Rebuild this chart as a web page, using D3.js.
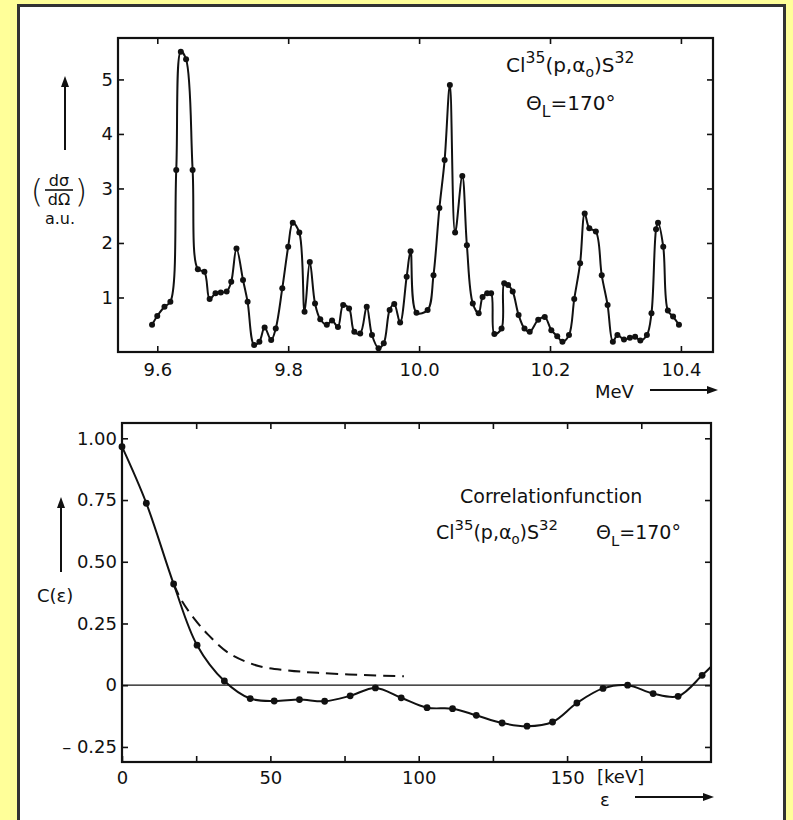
<!DOCTYPE html>
<html>
<head>
<meta charset="utf-8">
<script src="https://cdn.jsdelivr.net/npm/d3@7"></script>
<style>
  body { margin: 0; background: #ffff99; }
  svg { display: block; }
  text { font-family: "DejaVu Sans", "Liberation Sans", sans-serif; fill: #111; }
</style>
</head>
<body>
<div id="chart"></div>
<script>
var width = 793,
    height = 820;

// upper chart - excitation function, Cl35(p,a0)S32 at 170 deg
var energy = [9.592, 9.600, 9.611, 9.620, 9.629, 9.636, 9.644, 9.654, 9.662, 9.672,
              9.680, 9.689, 9.697, 9.706, 9.713, 9.721, 9.731, 9.738, 9.748, 9.756,
              9.764, 9.774, 9.781, 9.791, 9.800, 9.807, 9.817, 9.825, 9.833, 9.841,
              9.849, 9.859, 9.867, 9.876, 9.884, 9.893, 9.901, 9.910, 9.920, 9.928,
              9.938, 9.946, 9.955, 9.962, 9.971, 9.981, 9.987, 9.996, 10.013, 10.022,
              10.031, 10.039, 10.047, 10.055, 10.066, 10.073, 10.082, 10.091, 10.097, 10.104,
              10.110, 10.115, 10.126, 10.130, 10.136, 10.143, 10.152, 10.161, 10.169, 10.182,
              10.192, 10.202, 10.211, 10.219, 10.229, 10.237, 10.246, 10.253, 10.260, 10.270,
              10.279, 10.288, 10.296, 10.303, 10.313, 10.322, 10.330, 10.338, 10.348, 10.355,
              10.362, 10.365, 10.373, 10.380, 10.388, 10.397];
var sigma = [0.50, 0.66, 0.83, 0.92, 3.34, 5.51, 5.37, 3.34, 1.52, 1.47,
             0.97, 1.08, 1.09, 1.11, 1.29, 1.90, 1.32, 0.92, 0.13, 0.19,
             0.45, 0.22, 0.43, 1.17, 1.93, 2.37, 2.19, 0.74, 1.65, 0.89,
             0.60, 0.50, 0.58, 0.46, 0.86, 0.80, 0.37, 0.34, 0.83, 0.31,
             0.07, 0.16, 0.77, 0.88, 0.54, 1.38, 1.85, 0.72, 0.77, 1.41,
             2.64, 3.52, 4.90, 2.19, 3.23, 1.96, 0.89, 0.71, 1.01, 1.08,
             1.08, 0.33, 0.43, 1.26, 1.23, 1.11, 0.68, 0.43, 0.37, 0.59,
             0.64, 0.40, 0.29, 0.19, 0.31, 0.97, 1.63, 2.54, 2.27, 2.21,
             1.41, 0.86, 0.19, 0.31, 0.23, 0.26, 0.28, 0.21, 0.31, 0.71,
             2.25, 2.37, 1.93, 0.76, 0.65, 0.50];

// lower chart - correlation function C(eps)
var eps  = [0, 8.2, 17.4, 25.3, 34.5, 43.2, 51.3, 59.8, 68.3, 76.9, 85.4, 94.1,
            102.8, 111.4, 119.4, 128.1, 136.5, 145.1, 153.3, 162.1, 170.4, 179.0, 187.4, 195.5];
var corr = [0.966, 0.737, 0.41, 0.162, 0.017, -0.054, -0.064, -0.058, -0.065, -0.043, -0.011, -0.051,
            -0.091, -0.095, -0.122, -0.153, -0.166, -0.149, -0.072, -0.013, 0.0, -0.034, -0.045, 0.04];
var corrEndEps = 198.5, corrEnd = 0.075;   // where the curve leaves the frame, no dot there
var dashEps  = [17.4, 20, 24, 29, 36, 46, 56, 66, 80, 95];
var dashCorr = [0.41, 0.345, 0.275, 0.205, 0.13, 0.078, 0.06, 0.05, 0.042, 0.036];

var topXTicks = [9.6, 9.8, 10.0, 10.2, 10.4];
var topYTicks = [1, 2, 3, 4, 5];
var botXTicks = [0, 25, 50, 75, 100, 125, 150, 175];
var botXLabels = [0, 50, 100, 150];
var botYTicks = [1, 0.75, 0.5, 0.25, 0, -0.25];
var botYLabels = ["1.00", "0.75", "0.50", "0.25", "0", "\u2013 0.25"];

var svg = d3.select("#chart").append("svg")
    .attr("width", width)
    .attr("height", height);

// white sheet on the yellow page
svg.append("rect")
    .attr("x", 18.5).attr("y", 5.5)
    .attr("width", 766).attr("height", 830)
    .attr("fill", "#fff")
    .attr("stroke", "#333")
    .attr("stroke-width", 3);

var ink = "#111";

function frame(x, y) {
    var xr = x.range(), yr = y.range();
    svg.append("rect")
        .attr("x", xr[0]).attr("y", yr[1])
        .attr("width", xr[1] - xr[0]).attr("height", yr[0] - yr[1])
        .attr("fill", "none").attr("stroke", ink).attr("stroke-width", 2.2);
}

function styleAxis(g) {
    g.select(".domain").remove();
    g.selectAll(".tick line").attr("stroke", ink).attr("stroke-width", 1.6);
    g.selectAll(".tick text").attr("fill", ink).style("font-size", "18px")
        .style("font-family", null);
}

function arrow(x1, y1, x2, y2) {
    var a = Math.atan2(y2 - y1, x2 - x1), L = 11, W = 4;
    svg.append("line")
        .attr("x1", x1).attr("y1", y1).attr("x2", x2 - L * Math.cos(a) * 0.6).attr("y2", y2 - L * Math.sin(a) * 0.6)
        .attr("stroke", ink).attr("stroke-width", 2);
    var p = [[x2, y2],
             [x2 - L * Math.cos(a) + W * Math.sin(a), y2 - L * Math.sin(a) - W * Math.cos(a)],
             [x2 - L * Math.cos(a) - W * Math.sin(a), y2 - L * Math.sin(a) + W * Math.cos(a)]];
    svg.append("path").attr("d", "M" + p.join("L") + "Z").attr("fill", ink);
}

// reaction label with sup/sub
function reaction(g, x, y, fs) {
    var t = g.append("text").attr("x", x).attr("y", y).style("font-size", fs + "px");
    t.append("tspan").text("Cl");
    t.append("tspan").attr("dy", -fs * 0.45).style("font-size", (fs * 0.78) + "px").text("35");
    t.append("tspan").attr("dy", fs * 0.45).text("(p,\u03b1");
    t.append("tspan").attr("dy", fs * 0.25).style("font-size", (fs * 0.7) + "px").text("o");
    t.append("tspan").attr("dy", -fs * 0.25).text(")S");
    t.append("tspan").attr("dy", -fs * 0.45).style("font-size", (fs * 0.78) + "px").text("32");
}
function angle(g, x, y, fs) {
    var t = g.append("text").attr("x", x).attr("y", y).style("font-size", fs + "px");
    t.append("tspan").text("\u0398");
    t.append("tspan").attr("dy", fs * 0.35).style("font-size", (fs * 0.78) + "px").text("L");
    t.append("tspan").attr("dy", -fs * 0.35).text("=170\u00b0");
}

// ---------- upper chart ----------
var x1 = d3.scaleLinear().domain([9.54, 10.449]).range([118, 713]);
var y1 = d3.scaleLinear().domain([0, 5.76]).range([352, 38]);

svg.append("g").attr("transform", "translate(0,352)")
    .call(d3.axisBottom(x1).tickValues(topXTicks).tickSize(-6).tickPadding(11).tickFormat(d3.format(".1f")))
    .call(styleAxis);
svg.append("g").attr("transform", "translate(0,38)")
    .call(d3.axisTop(x1).tickValues(topXTicks).tickSize(-6).tickFormat(""))
    .call(styleAxis);
svg.append("g").attr("transform", "translate(118,0)")
    .call(d3.axisLeft(y1).tickValues(topYTicks).tickSize(-6).tickPadding(5).tickFormat(d3.format("d")))
    .call(styleAxis);
svg.append("g").attr("transform", "translate(713,0)")
    .call(d3.axisRight(y1).tickValues(topYTicks).tickSize(-6).tickFormat(""))
    .call(styleAxis);
frame(x1, y1);

var spec = energy.map(function (e, i) { return [e, sigma[i]]; });
svg.append("path")
    .datum(spec)
    .attr("fill", "none").attr("stroke", ink).attr("stroke-width", 2)
    .attr("stroke-linejoin", "round")
    .attr("d", d3.line().x(function (d) { return x1(d[0]); }).y(function (d) { return y1(d[1]); })
        .curve(d3.curveCatmullRom.alpha(0.5)));
svg.append("g").selectAll("circle")
    .data(spec).enter().append("circle")
    .attr("cx", function (d) { return x1(d[0]); })
    .attr("cy", function (d) { return y1(d[1]); })
    .attr("r", 3).attr("fill", ink);

reaction(svg, 506, 72, 20);
angle(svg, 526, 110, 20);

svg.append("text").attr("x", 595).attr("y", 398).style("font-size", "18px").text("MeV");
arrow(650, 390, 718, 390);

// y label (dsigma/dOmega) a.u.
arrow(65, 150, 65, 76);
svg.append("text").attr("x", 59).attr("y", 186).attr("text-anchor", "middle").style("font-size", "16px").text("d\u03c3");
svg.append("line").attr("x1", 45).attr("x2", 73).attr("y1", 190).attr("y2", 190).attr("stroke", ink).attr("stroke-width", 1.6);
svg.append("text").attr("x", 59).attr("y", 205).attr("text-anchor", "middle").style("font-size", "16px").text("d\u03a9");
svg.append("text").attr("x", 37).attr("y", 202).attr("text-anchor", "middle").style("font-size", "32px").style("font-weight", "200").text("(");
svg.append("text").attr("x", 81).attr("y", 202).attr("text-anchor", "middle").style("font-size", "32px").style("font-weight", "200").text(")");
svg.append("text").attr("x", 60).attr("y", 224).attr("text-anchor", "middle").style("font-size", "16px").text("a.u.");

// ---------- lower chart ----------
var x2 = d3.scaleLinear().domain([0, 198.5]).range([122, 711]);
var y2 = d3.scaleLinear().domain([-0.311, 1.062]).range([762, 423]);

svg.append("g").attr("transform", "translate(0,762)")
    .call(d3.axisBottom(x2).tickValues(botXTicks).tickSize(-6).tickPadding(9)
        .tickFormat(function (d) { return botXLabels.indexOf(d) >= 0 ? d : ""; }))
    .call(styleAxis);
svg.append("g").attr("transform", "translate(0,423)")
    .call(d3.axisTop(x2).tickValues(botXTicks.slice(1)).tickSize(-6).tickFormat(""))
    .call(styleAxis);
svg.append("g").attr("transform", "translate(122,0)")
    .call(d3.axisLeft(y2).tickValues(botYTicks).tickSize(-6).tickPadding(5)
        .tickFormat(function (d, i) { return botYLabels[i]; }))
    .call(styleAxis);
svg.append("g").attr("transform", "translate(711,0)")
    .call(d3.axisRight(y2).tickValues(botYTicks).tickSize(-6).tickFormat(""))
    .call(styleAxis);
frame(x2, y2);

// zero line
svg.append("line")
    .attr("x1", x2(0)).attr("x2", x2(198.5))
    .attr("y1", y2(0)).attr("y2", y2(0))
    .attr("stroke", ink).attr("stroke-width", 1.3);

var cPts = eps.map(function (e, i) { return [e, corr[i]]; });
var line2 = d3.line().x(function (d) { return x2(d[0]); }).y(function (d) { return y2(d[1]); })
    .curve(d3.curveCatmullRom.alpha(0.5));
svg.append("path")
    .datum(cPts.concat([[corrEndEps, corrEnd]]))
    .attr("fill", "none").attr("stroke", ink).attr("stroke-width", 2)
    .attr("d", line2);
svg.append("path")
    .datum(dashEps.map(function (e, i) { return [e, dashCorr[i]]; }))
    .attr("fill", "none").attr("stroke", ink).attr("stroke-width", 2)
    .attr("stroke-dasharray", "12,7")
    .attr("d", line2);
svg.append("g").selectAll("circle")
    .data(cPts).enter().append("circle")
    .attr("cx", function (d) { return x2(d[0]); })
    .attr("cy", function (d) { return y2(d[1]); })
    .attr("r", 3.4).attr("fill", ink);

svg.append("text").attr("x", 460).attr("y", 503).style("font-size", "19px").text("Correlationfunction");
reaction(svg, 436, 539, 19);
angle(svg, 596, 539, 19);

svg.append("text").attr("x", 597).attr("y", 783).style("font-size", "18px").text("[keV]");
svg.append("text").attr("x", 600).attr("y", 806).style("font-size", "18px").text("\u03b5");
arrow(635, 797, 714, 797);

arrow(61, 572, 61, 497);
svg.append("text").attr("x", 37).attr("y", 602).style("font-size", "18px").text("C(\u03b5)");
</script>
</body>
</html>
